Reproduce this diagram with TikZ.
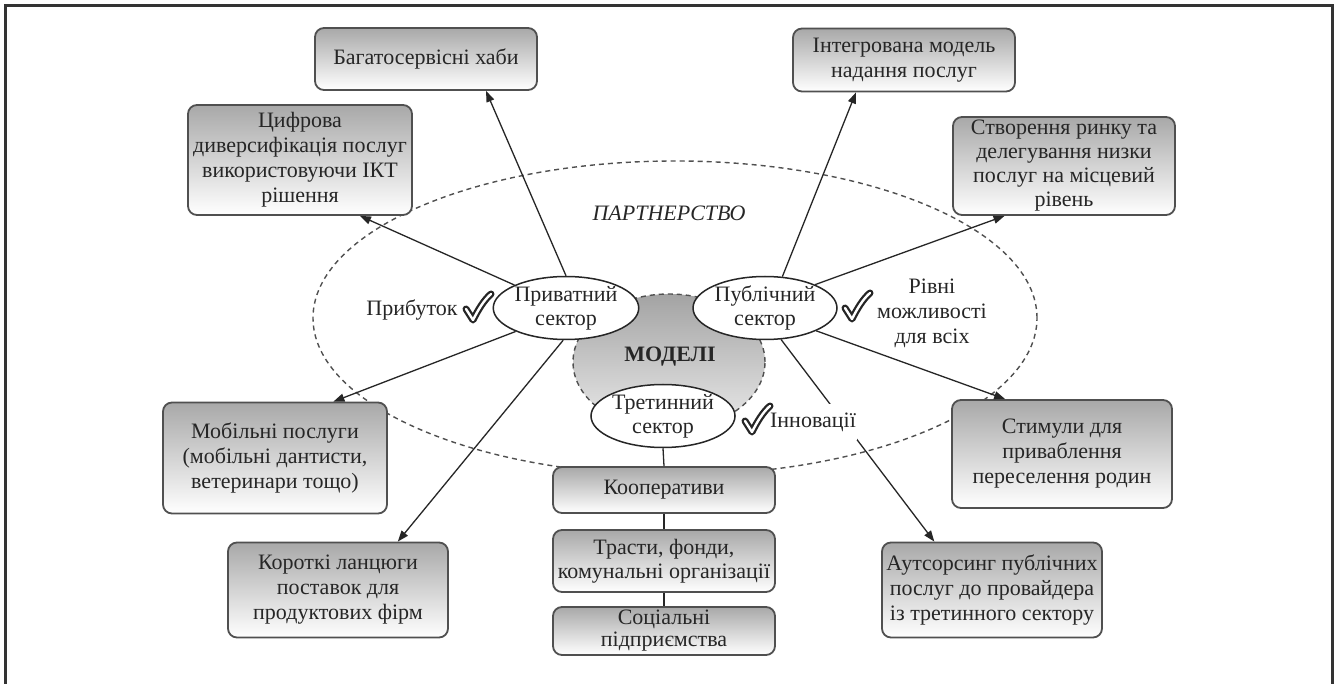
\documentclass[tikz,border=0pt]{standalone}
\usepackage{fontspec}
\setmainfont{Liberation Serif}
\usetikzlibrary{arrows.meta,shapes.geometric}
\definecolor{ink}{HTML}{262626}
\definecolor{edge}{HTML}{505050}
\tikzset{
  box/.style={rectangle, draw=edge, line width=1.8pt, rounded corners=9pt,
    top color=black!34, bottom color=white, align=center, inner sep=0pt,
    text=ink, font=\fontsize{22}{25}\selectfont},
  sect/.style={ellipse, draw=ink, line width=1.5pt, fill=white, align=center,
    inner sep=0pt, minimum width=142pt, minimum height=63pt, text=ink,
    font=\fontsize{22}{24}\selectfont},
  arr/.style={draw=ink, line width=1.3pt, -{Triangle[length=11pt,width=8pt]}},
  link/.style={draw=ink, line width=1.3pt},
  lbl/.style={text=ink, font=\fontsize{22}{25}\selectfont, align=center, inner sep=0pt},
  dashring/.style={draw=edge, line width=1.4pt, dash pattern=on 5pt off 4pt},
  chk/.pic={
    \draw[line width=7pt, ink, line cap=round, line join=round]
      (-12,1) -- (-5,12) .. controls (0,2) and (6,-8) .. (13,-14);
    \draw[line width=2.4pt, white, line cap=round, line join=round]
      (-12,1) -- (-5,12) .. controls (0,2) and (6,-8) .. (13,-14);
  }
}
\begin{document}
\begin{tikzpicture}[x=1pt,y=-1pt]
\useasboundingbox (0,0) rectangle (1336,684);
\fill[white] (0,0) rectangle (1336,684);
\draw[line width=3pt, black!80] (5,684) -- (5,6) -- (1332,6) -- (1332,684);

% partnership ring
\draw[dashring] (675,318) ellipse [x radius=362pt, y radius=157pt];
\node[lbl, font=\fontsize{22}{25}\selectfont\itshape] (partner) at (669,213) {ПАРТНЕРСТВО};

% models circle
\draw[dashring, top color=black!36, bottom color=black!8] (669,362) ellipse [x radius=96pt, y radius=68pt];
\node[lbl, font=\fontsize{22}{25}\selectfont\bfseries] (models) at (670,357) {МОДЕЛІ};

% boxes
\node[box, minimum width=222pt, minimum height=62pt] (hubs) at (426,59) {Багатосервісні хаби};
\node[box, minimum width=224pt, minimum height=110pt] (cyfr) at (300,160) {Цифрова\\диверсифікація послуг\\використовуючи ІКТ\\рішення};
\node[box, minimum width=222pt, minimum height=63pt] (integr) at (904,60) {Інтегрована модель\\надання послуг};
\node[box, minimum width=222pt, minimum height=98pt, font=\fontsize{22}{24}\selectfont] (stvor) at (1064,166) {Створення ринку та\\делегування низки\\послуг на місцевий\\рівень};
\node[box, minimum width=224pt, minimum height=111pt] (mobil) at (275,458) {Мобільні послуги\\(мобільні дантисти,\\ветеринари тощо)};
\node[box, minimum width=220pt, minimum height=95pt] (korot) at (338,590) {Короткі ланцюги\\поставок для\\продуктових фірм};
\node[box, minimum width=222pt, minimum height=46pt] (coop) at (664,490) {Кооперативи};
\node[box, minimum width=222pt, minimum height=62pt, font=\fontsize{22}{24}\selectfont] (trast) at (664,561) {Трасти, фонди,\\комунальні організації};
\node[box, minimum width=222pt, minimum height=48pt, font=\fontsize{22}{22}\selectfont] (social) at (664,631) {Соціальні\\підприємства};
\node[box, minimum width=220pt, minimum height=108pt] (stymul) at (1062,454) {Стимули для\\приваблення\\переселення родин};
\node[box, minimum width=220pt, minimum height=95pt] (outs) at (992,590) {Аутсорсинг публічних\\послуг до провайдера\\із третинного сектору};

% sector ellipses
\node[sect] (priv) at (566,308) {Приватний\\сектор};
\node[sect, minimum width=144pt] (pub) at (765,308) {Публічний\\сектор};
\node[sect] (ter) at (663,416) {Третинний\\сектор};

% arrows
\draw[arr] (priv.north) -- (hubs.-28.5);
\draw[arr] (priv.156.5) -- (cyfr.-43.5);
\draw[arr] (priv.205.3) -- (mobil.44);
\draw[arr] (priv.-95) -- (korot.39);
\draw[arr] (pub.61.3) -- (integr.214);
\draw[arr] (pub.25.3) -- (stvor.220.8);
\draw[arr] (pub.-24.4) -- (stymul.136.5);
\draw[arr] (pub.-63.4) -- (outs.140.5);

\draw[link] (ter.south) -- (coop.north);
\draw[link] (coop.south) -- (trast.north);
\draw[link] (trast.south) -- (social.north);

% labels
\node[lbl] (profit) at (412,310) {Прибуток};
\pic at (478,308) {chk};
\node[lbl] (equal) at (932,313) {Рівні\\можливості\\для всіх};
\pic at (857,307) {chk};
\node[lbl, fill=white, inner xsep=1pt, inner ysep=9pt] (innov) at (813,422) {Інновації};
\pic at (757,420) {chk};
\end{tikzpicture}
\end{document}
